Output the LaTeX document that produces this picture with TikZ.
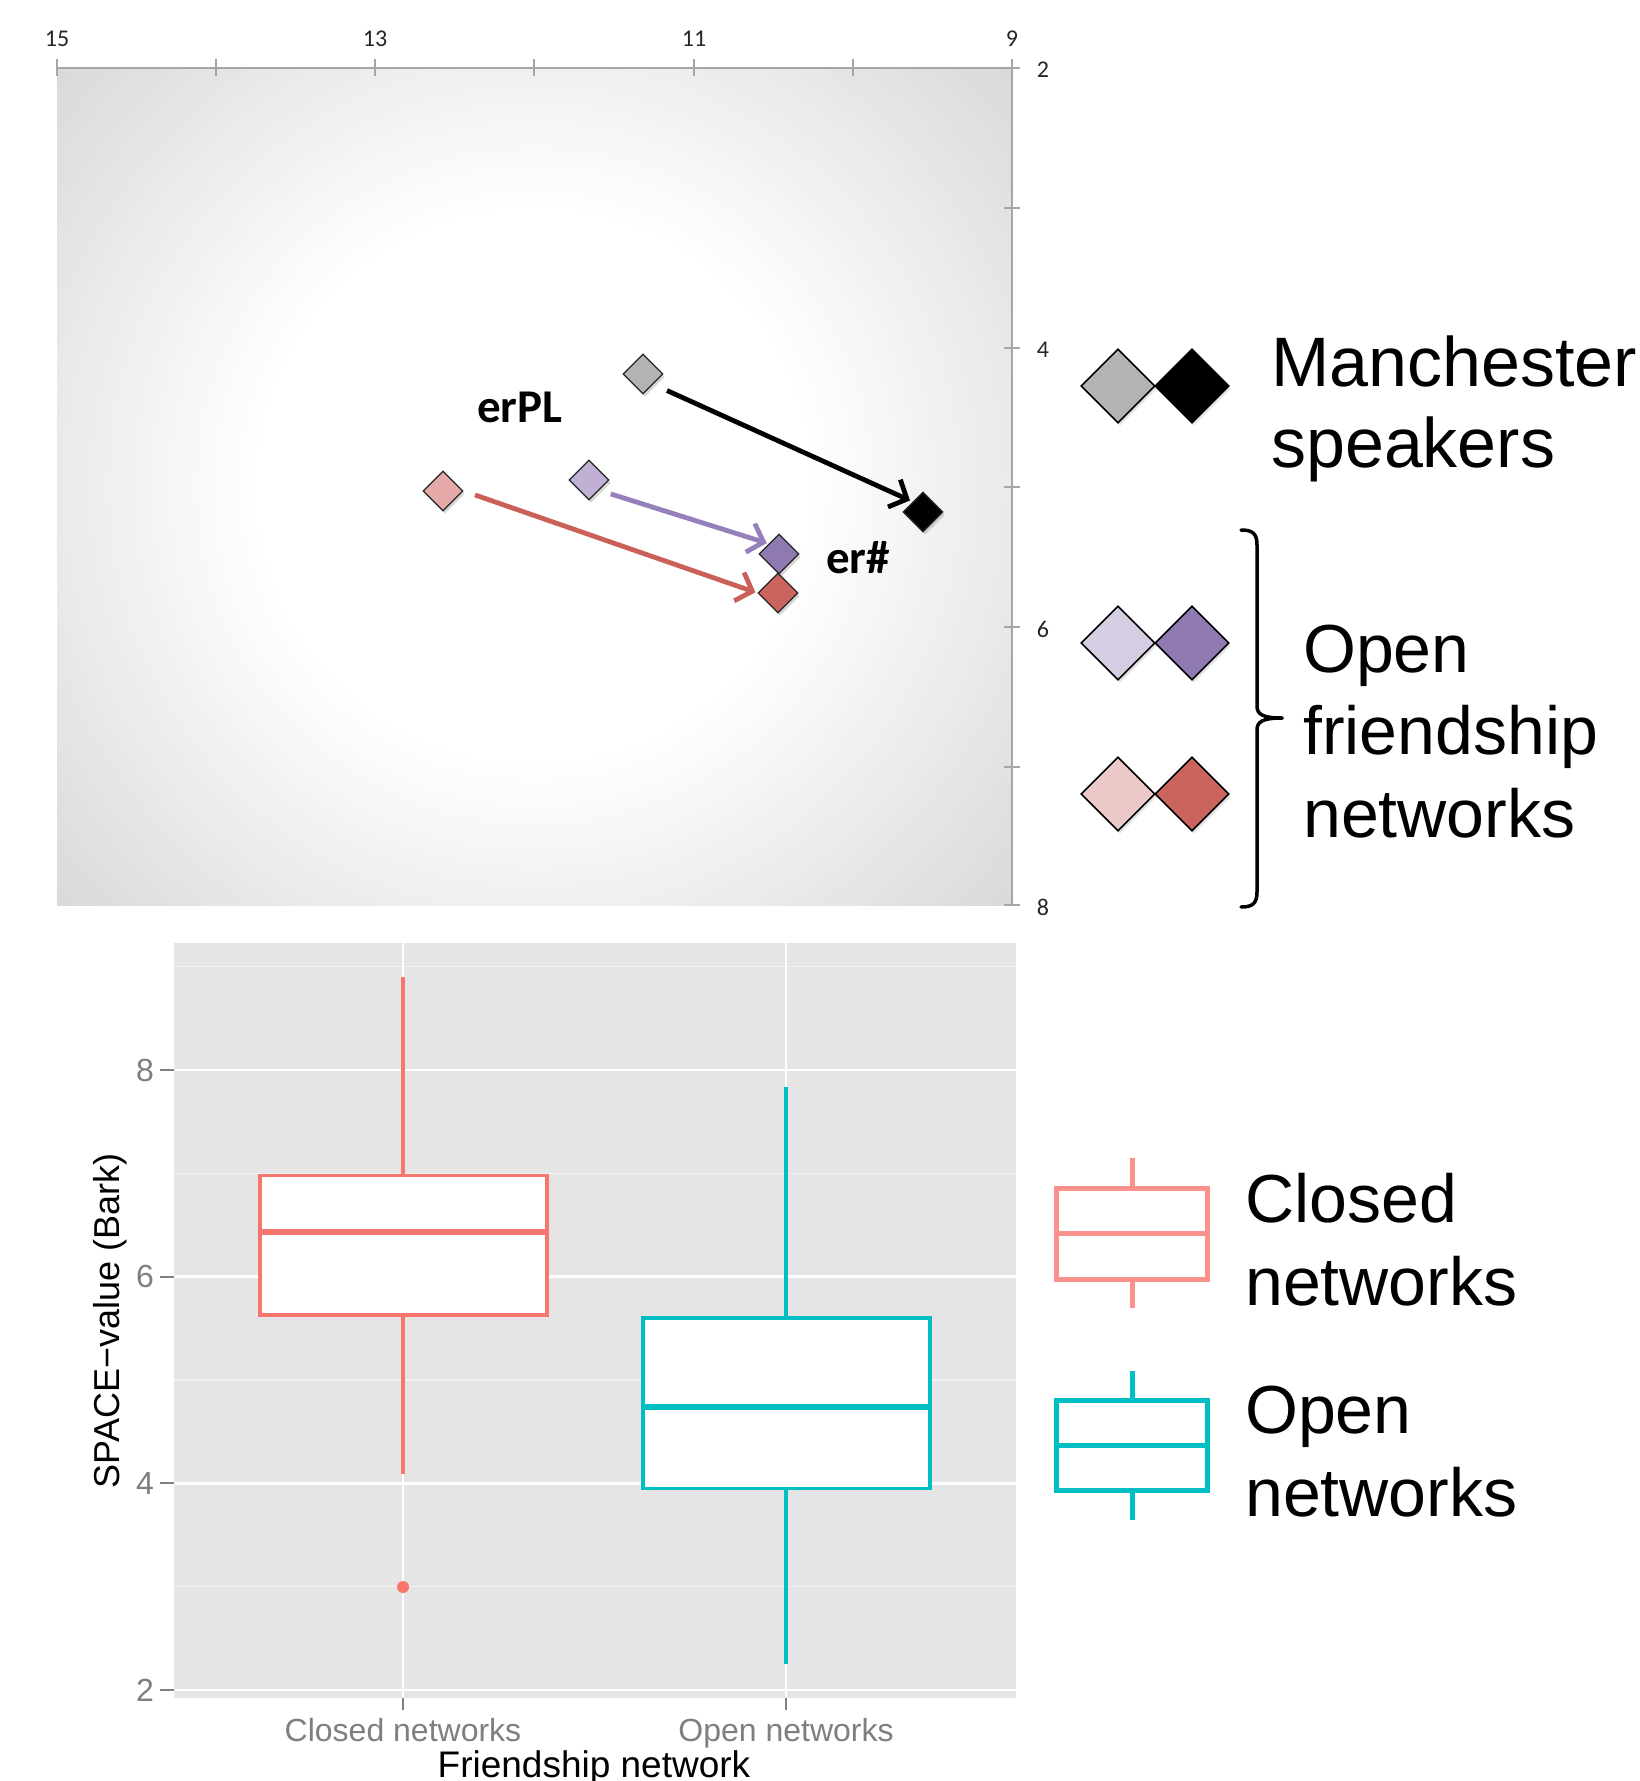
\documentclass[tikz,border=0pt]{standalone}
\usepackage{fontspec}
\setmainfont{Liberation Sans}
\newfontfamily\calib{Carlito}
\usetikzlibrary{arrows.meta,shapes.geometric,shadows}
\definecolor{ggbg}{HTML}{E5E5E5}
\definecolor{ggminor}{HTML}{F2F2F2}
\definecolor{closedc}{HTML}{F8766D}
\definecolor{closedl}{HTML}{FA928B}
\definecolor{openc}{HTML}{00BFC4}
\definecolor{axgrey}{HTML}{7F7F7F}
\definecolor{tickc}{HTML}{A6A6A6}
\definecolor{gryd}{HTML}{B3B3B3}
\definecolor{pinkl}{HTML}{E5A9A7}
\definecolor{pinkleg}{HTML}{ECC9C9}
\definecolor{purl}{HTML}{C0B1D4}
\definecolor{purleg}{HTML}{D6CDE2}
\definecolor{purd}{HTML}{8F79B1}
\definecolor{redd}{HTML}{CA645D}
\definecolor{purarr}{HTML}{9580BB}
\definecolor{redarr}{HTML}{CB6059}
\begin{document}
\begin{tikzpicture}[x=1pt,y=-1pt,
  dia/.style={shape=diamond,minimum width=40pt,minimum height=40pt,inner sep=0pt,draw=black!85,line width=1.3pt,
    drop shadow={shadow xshift=2pt,shadow yshift=-3pt,opacity=0.3}},
  legdia/.style={shape=diamond,minimum width=74pt,minimum height=74pt,inner sep=0pt,draw=black,line width=1.6pt,
    drop shadow={shadow xshift=2pt,shadow yshift=-3pt,opacity=0.2}},
  arr/.style={line width=4.8pt,-{Straight Barb[length=14pt,width=30pt,line width=4.8pt]}},
  topnum/.style={font=\calib\fontsize{24}{26}\selectfont,text=black!85},
  bold/.style={font=\calib\bfseries\fontsize{47}{50}\selectfont},
  legtxt/.style={font=\fontsize{68}{80}\selectfont,anchor=base west,inner sep=0pt},
  ytick/.style={font=\fontsize{32}{36}\selectfont,text=axgrey,anchor=east,inner sep=0pt},
  xtick/.style={font=\fontsize{32}{36}\selectfont,text=axgrey,anchor=base,inner sep=0pt},
  major/.style={white,line width=2.6pt},
  minor/.style={ggminor,line width=1.2pt},
  boxline/.style={line width=3.5pt},
]
\useasboundingbox (0,0) rectangle (1640,1781);
\fill[white] (0,0) rectangle (1640,1781);

% ---------- top plot ----------
\begin{scope}
\clip (57,68) rectangle (1012,905);
\foreach \i in {0,...,45} {
  \pgfmathsetmacro\rr{640-\i*8}
  \pgfmathsetmacro\gg{max(0,15*(\rr-280)/360)}
  \fill[black!\gg] (534,486) circle (\rr pt);
}
\end{scope}
\draw[tickc,line width=2pt] (57,68) -- (1012,68);
\foreach \x in {57,216,375,534,694,853,1012} \draw[tickc,line width=1.6pt] (\x,59) -- (\x,76);
\draw[tickc,line width=2pt] (1012,68) -- (1012,905);
\foreach \y in {68,208,348,487,627,767,905} \draw[tickc,line width=1.6pt] (1004,\y) -- (1020,\y);
\node[topnum] (t15) at (57,39) {15};
\node[topnum] (t13) at (375,39) {13};
\node[topnum] (t11) at (694,39) {11};
\node[topnum] (t9) at (1012,39) {9};
\node[topnum] (r2) at (1043,70) {2};
\node[topnum] (r4) at (1043,350) {4};
\node[topnum] (r6) at (1043,629) {6};
\node[topnum] (r8) at (1043,907) {8};

\node[bold,anchor=base west,inner sep=0pt] (erpl) at (477,422) {erPL};
\node[bold,anchor=base west,inner sep=0pt] (erh) at (826,573) {er\#};

\node[dia,fill=gryd] (g1) at (643,374) {};
\node[dia,fill=black] (b1) at (923,512) {};
\node[dia,fill=pinkl] (p1) at (443,491) {};
\node[dia,fill=purl] (v1) at (589,480) {};
\node[dia,fill=purd] (v2) at (779,554) {};
\node[dia,fill=redd] (rr) at (778,593) {};
\draw[arr,black,shorten <=15pt,shorten >=3pt] (g1.south east) -- (b1.north west);
\draw[arr,purarr,shorten <=12pt,shorten >=2pt] (v1.south east) -- (v2.north west);
\draw[arr,redarr,shorten <=12pt,shorten >=2pt] (p1.east) -- (rr.west);

% top legend
\node[legdia,fill=gryd] (lg1) at (1118,386) {};
\node[legdia,fill=black] (lg2) at (1192,386) {};
\node[legdia,fill=purleg] (lv1) at (1118,643) {};
\node[legdia,fill=purd] (lv2) at (1192,643) {};
\node[legdia,fill=pinkleg] (lr1) at (1118,794) {};
\node[legdia,fill=redd] (lr2) at (1192,794) {};
\node[legtxt,font=\fontsize{70}{80}\selectfont] (man) at (1271,386) {Manchester};
\node[legtxt,font=\fontsize{70}{80}\selectfont] (spk) at (1271,467) {speakers};
\node[legtxt] (op1) at (1303,672) {Open};
\node[legtxt] (fr1) at (1303,754) {friendship};
\node[legtxt] (nw1) at (1303,837) {networks};
\draw[line width=3.5pt,line cap=round] (1241,530) .. controls (1252,530) and (1257,533) .. (1257,545) -- (1257,706) .. controls (1257,714) and (1262,718) .. (1282,718);
\draw[line width=3.5pt,line cap=round] (1282,718) .. controls (1262,718) and (1257,722) .. (1257,730) -- (1257,892) .. controls (1257,904) and (1252,907) .. (1241,907);

% ---------- bottom plot ----------
\fill[ggbg] (174,943) rectangle (1016,1698);
\foreach \y in {1586.7,1380,1173.3,966.7} \draw[minor] (174,\y) -- (1016,\y);
\foreach \y in {1690,1483.3,1276.7,1070} \draw[major] (174,\y) -- (1016,\y);
\foreach \x in {403,786} \draw[major] (\x,943) -- (\x,1698);
\foreach \y/\l in {1690/2,1483.3/4,1276.7/6,1070/8} {
  \draw[axgrey,line width=2pt] (160,\y) -- (174,\y);
  \node[ytick] at (154,\y) {\l};
}
\foreach \x in {403,786} \draw[axgrey,line width=2pt] (\x,1698) -- (\x,1710);
\node[xtick] (xc) at (403,1741) {Closed networks};
\node[xtick] (xo) at (786,1741) {Open networks};
\node[font=\fontsize{37}{40}\selectfont,anchor=base,inner sep=0pt] (xt) at (594,1777) {Friendship network};
\node[font=\fontsize{36}{40}\selectfont,rotate=90,inner sep=0pt] (yt) at (110,1321) {SPACE−value (Bark)};

% closed box
\draw[closedc,boxline] (403,977) -- (403,1175.5);
\draw[closedc,boxline] (403,1315) -- (403,1474);
\filldraw[closedc,boxline,fill=white] (260,1175.5) rectangle (547,1315);
\draw[closedc,line width=5.5pt] (260,1232) -- (547,1232);
\fill[closedc] (403,1587) circle (6pt);
% open box
\draw[openc,boxline] (786,1086.5) -- (786,1318);
\draw[openc,boxline] (786,1488.5) -- (786,1664);
\filldraw[openc,boxline,fill=white] (643,1318) rectangle (930,1488.5);
\draw[openc,line width=5.5pt] (643,1407) -- (930,1407);

% bottom legend
\draw[closedl,line width=5pt] (1132,1158) -- (1132,1188);
\draw[closedl,line width=5pt] (1132,1279) -- (1132,1308);
\draw[closedl,line width=5pt] (1056,1188) rectangle (1207,1279);
\draw[closedl,line width=5pt] (1056,1233) -- (1207,1233);
\draw[openc,line width=5pt] (1132,1371) -- (1132,1400);
\draw[openc,line width=5pt] (1132,1490) -- (1132,1520);
\draw[openc,line width=5pt] (1056,1400) rectangle (1207,1490);
\draw[openc,line width=5pt] (1056,1445) -- (1207,1445);
\node[legtxt] (cl) at (1245,1222) {Closed};
\node[legtxt] (cln) at (1245,1305) {networks};
\node[legtxt] (opn) at (1245,1433) {Open};
\node[legtxt] (opnn) at (1245,1516) {networks};
\end{tikzpicture}
\end{document}
